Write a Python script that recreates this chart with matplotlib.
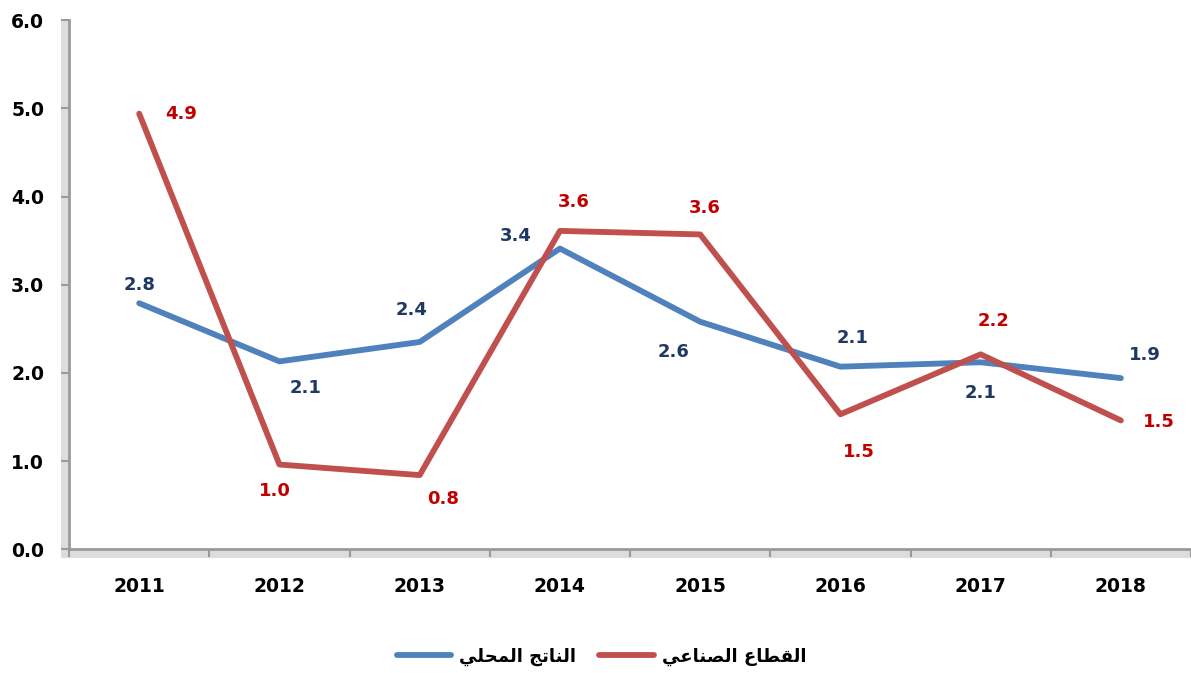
import matplotlib.pyplot as plt
import matplotlib.patches as mpatches

years = ['2011', '2012', '2013', '2014', '2015', '2016', '2017', '2018']
gdp = [2.79, 2.13, 2.35, 3.41, 2.58, 2.07, 2.12, 1.94]
industry = [4.94, 0.96, 0.84, 3.61, 3.57, 1.53, 2.21, 1.46]

# Arabic names in presentation forms, visual order (matplotlib has no shaping)
name_gdp = '\ufef2\ufee0\ufea4\ufee4\ufedf\ufe8d \ufe9e\ufe97\ufe8e\ufee8\ufedf\ufe8d'      # الناتج المحلي
name_ind = '\ufef2\ufecb\ufe8e\ufee8\ufebc\ufedf\ufe8d \ufec9\ufe8e\ufec4\ufed8\ufedf\ufe8d'  # القطاع الصناعي

# label placement: (dx points, dy points)
gdp_off = [(0, 13), (19, -19), (-6, 23), (-32, 9), (-19, -22), (9, 21), (0, -22), (17, 17)]
ind_off = [(30, 0), (-3, -19), (17, -17), (10, 21), (3, 19), (13, -27), (9, 24), (27, -1)]

plt.rcParams['font.family'] = ['DejaVu Sans']
plt.rcParams['font.weight'] = 'bold'

fig = plt.figure(figsize=(11.91, 6.73), dpi=100)
ax = fig.add_axes([0.058, 0.184, 0.942, 0.786])

x = list(range(len(years)))
blue = '#4F81BD'
red = '#C0504D'
l1, = ax.plot(x, gdp, color=blue, lw=4.2, solid_capstyle='round', solid_joinstyle='round', label=name_gdp)
l2, = ax.plot(x, industry, color=red, lw=4.2, solid_capstyle='round', solid_joinstyle='round', label=name_ind)

for xi, v, off in zip(x, gdp, gdp_off):
    ax.annotate(f'{v:.1f}', (xi, v), xytext=off, textcoords='offset points',
                ha='center', va='center', fontsize=13, fontweight='bold', color='#1F3864')
for xi, v, off in zip(x, industry, ind_off):
    ax.annotate(f'{v:.1f}', (xi, v), xytext=off, textcoords='offset points',
                ha='center', va='center', fontsize=13, fontweight='bold', color='#C00000')

ax.set_xlim(-0.5, len(years) - 0.5)
ax.set_ylim(0, 6)
ax.set_yticks([0, 1, 2, 3, 4, 5, 6])
ax.set_yticklabels([f'{v:.1f}' for v in range(7)], fontsize=13.5, fontweight='bold')
ax.set_xticks([i - 0.5 for i in range(len(years) + 1)])
ax.set_xticklabels([])
ax.set_xticks(x, minor=True)
ax.set_xticklabels(years, minor=True, fontsize=13.5, fontweight='bold')
ax.tick_params(axis='x', which='minor', length=0, pad=20)
ax.tick_params(axis='x', which='major', length=6, direction='out', color='#9A9A9A', width=1.5)
ax.tick_params(axis='y', length=6, color='#9A9A9A', width=1.5, pad=12)

for s in ['top', 'right']:
    ax.spines[s].set_visible(False)
for s in ['left', 'bottom']:
    ax.spines[s].set_color('#9A9A9A')
    ax.spines[s].set_linewidth(2)

# 3D-like shading bands along the axes
ax.add_patch(mpatches.Rectangle((-0.0075, -0.016), 0.0075, 1.016, transform=ax.transAxes,
                                color='#DDDDDD', clip_on=False, zorder=0, lw=0))
ax.add_patch(mpatches.Rectangle((-0.0075, -0.016), 1.0075, 0.016, transform=ax.transAxes,
                                color='#DDDDDD', clip_on=False, zorder=0, lw=0))

fig.legend(handles=[l1, l2], loc='center', bbox_to_anchor=(0.505, 0.024), ncol=2,
           frameon=False, handlelength=3.0, columnspacing=1.3, handletextpad=0.45,
           prop={'weight': 'bold', 'size': 13})

fig.savefig('out.png', dpi=100)
